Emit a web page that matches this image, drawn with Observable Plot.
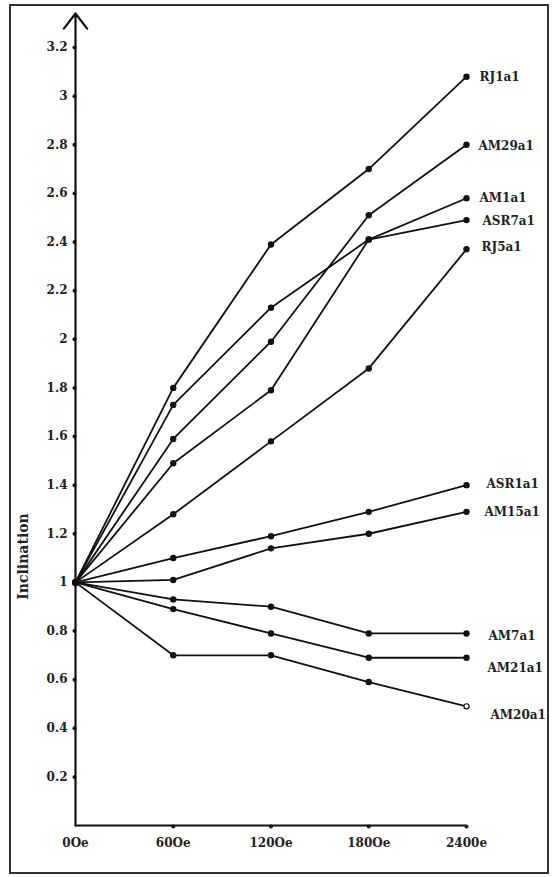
<!DOCTYPE html>
<html><head><meta charset="utf-8">
<script src="https://cdn.jsdelivr.net/npm/d3@7"></script>
<script src="https://cdn.jsdelivr.net/npm/@observablehq/plot@0.6"></script>
<style>
body{margin:0;background:#fff;}
#wrap{position:relative;width:552px;height:877px;overflow:hidden;}
#frame{position:absolute;left:9px;top:4px;width:536px;height:866px;border:2px solid #333;pointer-events:none;}
</style></head><body><div id="wrap"><div id="frame"></div></div>
<script>
// Field steps (Oe) and their axis labels
const fieldOe = [0, 60, 120, 180, 240];
const fieldLabels = ["0Oe", "60Oe", "120Oe", "180Oe", "2400e"];
const yTicks = [0.2, 0.4, 0.6, 0.8, 1, 1.2, 1.4, 1.6, 1.8, 2, 2.2, 2.4, 2.6, 2.8, 3, 3.2];
const axisTop = 3.34;

// Series (inclination per field step)
const seriesNames = ["RJ1a1", "AM29a1", "AM1a1", "ASR7a1", "RJ5a1", "ASR1a1", "AM15a1", "AM7a1", "AM21a1", "AM20a1"];
const RJ1a1  = [1, 1.80, 2.39, 2.70, 3.08];
const AM29a1 = [1, 1.59, 1.99, 2.51, 2.80];
const AM1a1  = [1, 1.49, 1.79, 2.41, 2.58];
const ASR7a1 = [1, 1.73, 2.13, 2.41, 2.49];
const RJ5a1  = [1, 1.28, 1.58, 1.88, 2.37];
const ASR1a1 = [1, 1.10, 1.19, 1.29, 1.40];
const AM15a1 = [1, 1.01, 1.14, 1.20, 1.29];
const AM7a1  = [1, 0.93, 0.90, 0.79, 0.79];
const AM21a1 = [1, 0.89, 0.79, 0.69, 0.69];
const AM20a1 = [1, 0.70, 0.70, 0.59, 0.49];
const seriesValues = [RJ1a1, AM29a1, AM1a1, ASR7a1, RJ5a1, ASR1a1, AM15a1, AM7a1, AM21a1, AM20a1];

// label layout offsets (px)
const labelDx = [13, 12, 13, 16, 15, 20, 18, 22, 21, 24];
const labelDy = [0, 1, 0, 1, -2, -1, 0, 3, 10, 9];

const rows = seriesNames.flatMap((name, i) =>
  fieldOe.map((oe, j) => ({name, oe, value: seriesValues[i][j]})));

const font = "DejaVu Serif, Liberation Serif, serif";

const plot = Plot.plot({
  width: 552,
  height: 877,
  marginLeft: 75,
  marginRight: 86,
  marginTop: 47,
  marginBottom: 52,
  style: {fontFamily: font, background: "transparent", overflow: "visible"},
  x: {domain: [0, 240], axis: null},
  y: {domain: [0, 3.2], axis: null},
  marks: [
    // axes
    Plot.ruleY([0], {x1: 0, x2: fieldOe[fieldOe.length - 1], stroke: "#111", strokeWidth: 2}),
    Plot.arrow([axisTop], {x1: 0, y1: 0, x2: 0, y2: d => d, stroke: "#111", strokeWidth: 2.2, headLength: 13, headAngle: 75}),
    Plot.dot(yTicks, {x: 0, y: d => d, r: 2, fill: "#111", dx: -1}),
    Plot.dot(fieldOe.slice(1), {x: d => d, y: 0, r: 2, fill: "#111", dy: 1}),
    Plot.text(yTicks, {x: 0, y: d => d, text: d => String(d), textAnchor: "end", dx: -8, fontSize: 12, fontWeight: "bold", fill: "#222"}),
    Plot.text(fieldOe, {x: d => d, y: 0, text: (d, i) => fieldLabels[i], dy: 18, fontSize: 12, fontWeight: "bold", fill: "#222"}),
    Plot.text(["Inclination"], {frameAnchor: "left", text: d => d, rotate: -90, textAnchor: "middle", dx: -52, dy: 120, fontSize: 14, fontWeight: "bold", fill: "#222"}),
    // series
    Plot.line(rows, {x: "oe", y: "value", z: "name", stroke: "#111", strokeWidth: 1.8}),
    Plot.dot(rows, {x: "oe", y: "value", r: 2.6, fill: d => (d.name === "AM20a1" && d.oe === 240) ? "white" : "#111", stroke: "#111", strokeWidth: 1.2}),
    ...seriesNames.map((name, i) =>
      Plot.text([name], {
        x: fieldOe[fieldOe.length - 1],
        y: seriesValues[i][seriesValues[i].length - 1],
        text: d => d,
        textAnchor: "start",
        dx: labelDx[i],
        dy: labelDy[i],
        fontSize: 12,
        fontWeight: "bold",
        fill: "#222"
      }))
  ]
});
document.getElementById("wrap").prepend(plot);
</script>
</body></html>
